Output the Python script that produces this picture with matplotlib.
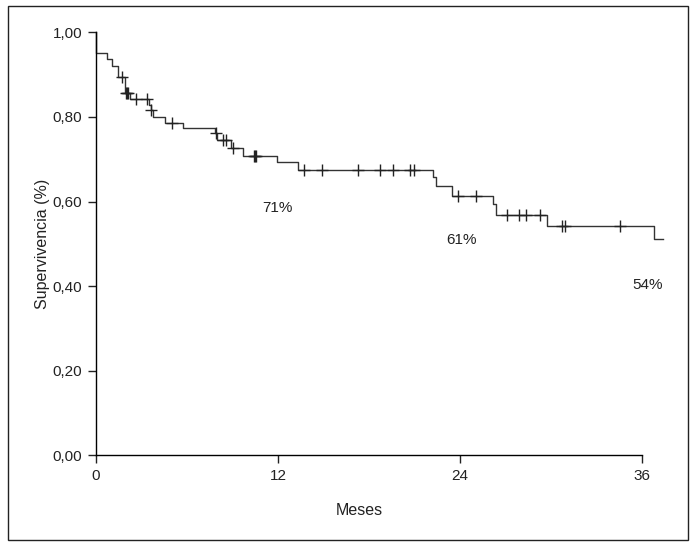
import numpy as np
import matplotlib
matplotlib.use('Agg')
import matplotlib.pyplot as plt
from matplotlib.patches import Rectangle

plt.rcParams['font.family'] = ['Liberation Sans', 'DejaVu Sans']

# Kaplan-Meier steps: time (months) where the curve drops, and the new survival level
step_t = [0.0, 0.0, 0.71, 1.08, 1.43, 1.91, 2.24, 3.52, 3.62, 3.78, 4.55, 5.76, 7.85,
          7.96, 8.89, 9.72, 11.96, 13.30, 22.25, 22.43, 23.50, 26.17, 26.39, 29.73, 36.83]
step_s = [1.000, 0.950, 0.936, 0.921, 0.895, 0.856, 0.842, 0.828, 0.816, 0.800, 0.786, 0.773,
          0.762, 0.745, 0.726, 0.708, 0.693, 0.675, 0.657, 0.637, 0.614, 0.594, 0.568, 0.543, 0.512]
end_t = 37.42

# censored observations
cens_t = [1.70, 1.95, 2.02, 2.08, 2.64, 3.38, 3.62, 5.03, 7.90, 8.40, 8.58, 9.06,
          10.42, 10.50, 10.58, 13.70, 14.93, 17.30, 18.73, 19.57, 20.71, 21.00,
          23.90, 25.07, 27.09, 27.92, 28.36, 29.29, 30.76, 30.94, 34.56]

annot_text = ['71%', '61%', '54%']
annot_x = [12.0, 24.1, 36.4]
annot_y = [0.585, 0.509, 0.403]

xticks = [0, 12, 24, 36]
yticks = [0.0, 0.2, 0.4, 0.6, 0.8, 1.0]
ytick_labels = ['0,00', '0,20', '0,40', '0,60', '0,80', '1,00']


def surv_at(t):
    s = step_s[0]
    for tt, ss in zip(step_t, step_s):
        if tt <= t:
            s = ss
    return s


fig = plt.figure(figsize=(6.98, 5.48), dpi=100)
ax = fig.add_axes([96 / 698, 1 - 455.3 / 548, 38 * 15.16 / 698, (455.3 - 32.3) / 548])

xs = step_t + [end_t]
ys = step_s + [step_s[-1]]
ax.step(xs, ys, where='post', color='#333333', linewidth=1.0, clip_on=False)

cy = [surv_at(t) for t in cens_t]
ax.plot(cens_t, cy, linestyle='none', marker='+', markersize=9, markeredgewidth=1.0,
        color='#222222', clip_on=False)

for txt, x, y in zip(annot_text, annot_x, annot_y):
    ax.text(x, y, txt, ha='center', va='center', fontsize=11, color='#222222')

ax.set_xlim(0, 38)
ax.set_ylim(0, 1.0)
ax.set_xticks(xticks)
ax.set_yticks(yticks)
ax.set_yticklabels(ytick_labels)
ax.spines['top'].set_visible(False)
ax.spines['right'].set_visible(False)
ax.spines['bottom'].set_bounds(0, 36)
ax.spines['left'].set_linewidth(1.0)
ax.spines['bottom'].set_linewidth(1.0)
ax.tick_params(axis='both', direction='out', length=6, width=1.0, labelsize=11,
               colors='#222222', pad=4)
ax.set_xlabel('Meses', fontsize=11.5, color='#222222')
ax.xaxis.set_label_coords(263 / 576, -0.112)
ax.set_ylabel('Supervivencia (%)', fontsize=11.5, labelpad=2, color='#222222')

fig.patches.append(Rectangle((8 / 698, 1 - 540 / 548), 680 / 698, 534 / 548,
                             transform=fig.transFigure, fill=False,
                             edgecolor='#222222', linewidth=1.0))

fig.savefig('out.png', dpi=100)
